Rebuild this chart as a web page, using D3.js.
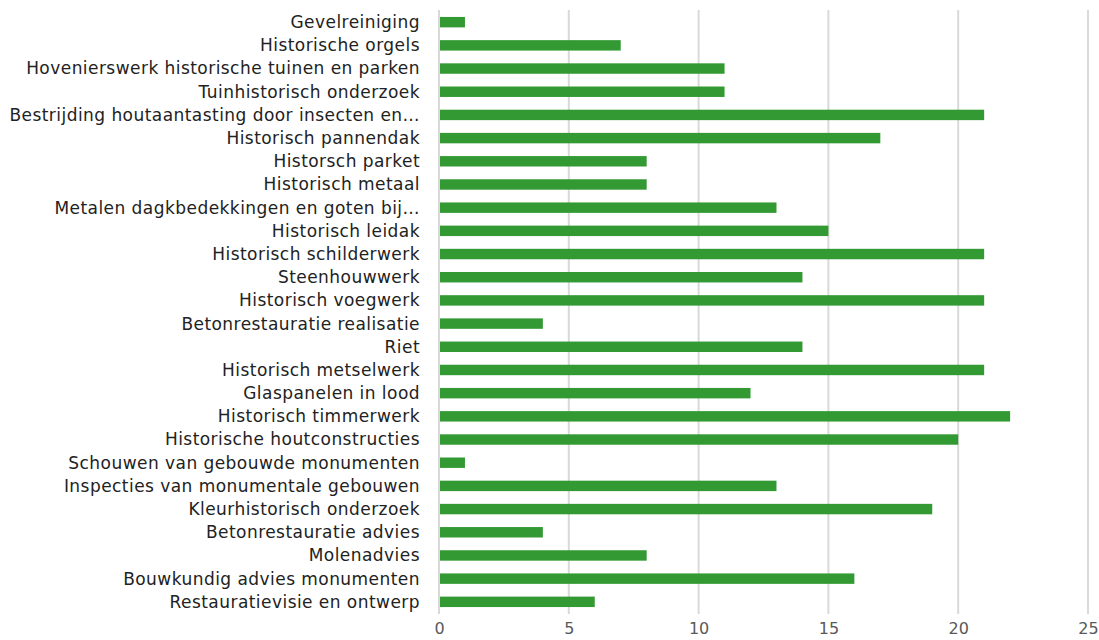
<!DOCTYPE html>
<html>
<head>
<meta charset="utf-8">
<script src="https://cdn.jsdelivr.net/npm/d3@7"></script>
<style>
  body { margin: 0; background: #fff; }
  .label { font-family: "DejaVu Sans", Verdana, sans-serif; font-size: 17px; letter-spacing: 0.45px; fill: #222; }
  .tick text { font-family: "DejaVu Sans", Verdana, sans-serif; font-size: 16px; fill: #595959; }
</style>
</head>
<body>
<script>
// categories, top to bottom
var categories = [
  "Gevelreiniging",
  "Historische orgels",
  "Hovenierswerk historische tuinen en parken",
  "Tuinhistorisch onderzoek",
  "Bestrijding houtaantasting door insecten en…",
  "Historisch pannendak",
  "Historsch parket",
  "Historisch metaal",
  "Metalen dagkbedekkingen en goten bij…",
  "Historisch leidak",
  "Historisch schilderwerk",
  "Steenhouwwerk",
  "Historisch voegwerk",
  "Betonrestauratie realisatie",
  "Riet",
  "Historisch metselwerk",
  "Glaspanelen in lood",
  "Historisch timmerwerk",
  "Historische houtconstructies",
  "Schouwen van gebouwde monumenten",
  "Inspecties van monumentale gebouwen",
  "Kleurhistorisch onderzoek",
  "Betonrestauratie advies",
  "Molenadvies",
  "Bouwkundig advies monumenten",
  "Restauratievisie en ontwerp"
];
var values = [1, 7, 11, 11, 21, 17, 8, 8, 13, 15, 21, 14, 21, 4, 14, 21, 12, 22, 20, 1, 13, 19, 4, 8, 16, 6];
var xTicks = [0, 5, 10, 15, 20, 25];

var width = 1099, height = 640;
var margin = {top: 10, right: 11, bottom: 26, left: 439};

var svg = d3.select("body").append("svg")
    .attr("width", width)
    .attr("height", height);

var xScale = d3.scaleLinear()
    .domain([0, 25])
    .range([margin.left, width - margin.right]);

var yScale = d3.scaleBand()
    .domain(categories)
    .range([margin.top, height - margin.bottom])
    .paddingInner(0.55)
    .paddingOuter(0.3);

// gridlines
svg.append("g")
    .selectAll("line")
    .data(xTicks)
  .enter().append("line")
    .attr("x1", function(d) { return xScale(d); })
    .attr("x2", function(d) { return xScale(d); })
    .attr("y1", margin.top)
    .attr("y2", height - margin.bottom)
    .attr("stroke", "#d9d9d9")
    .attr("stroke-width", 2);

// bars
svg.append("g")
    .selectAll("rect")
    .data(values)
  .enter().append("rect")
    .attr("x", xScale(0) + 1)
    .attr("y", function(d, i) { return yScale(categories[i]); })
    .attr("width", function(d) { return xScale(d) - xScale(0) - 1; })
    .attr("height", yScale.bandwidth())
    .attr("fill", "#339933");

// category labels
svg.append("g")
    .selectAll("text")
    .data(categories)
  .enter().append("text")
    .attr("class", "label")
    .attr("x", margin.left - 19)
    .attr("y", function(d) { return yScale(d) + yScale.bandwidth() / 2; })
    .attr("dy", "0.35em")
    .attr("text-anchor", "end")
    .text(function(d) { return d; });

// x axis
var xAxis = svg.append("g")
    .attr("transform", "translate(0," + (height - margin.bottom) + ")")
    .call(d3.axisBottom(xScale).tickValues(xTicks).tickSize(0).tickPadding(9));
xAxis.select(".domain").remove();
</script>
</body>
</html>
